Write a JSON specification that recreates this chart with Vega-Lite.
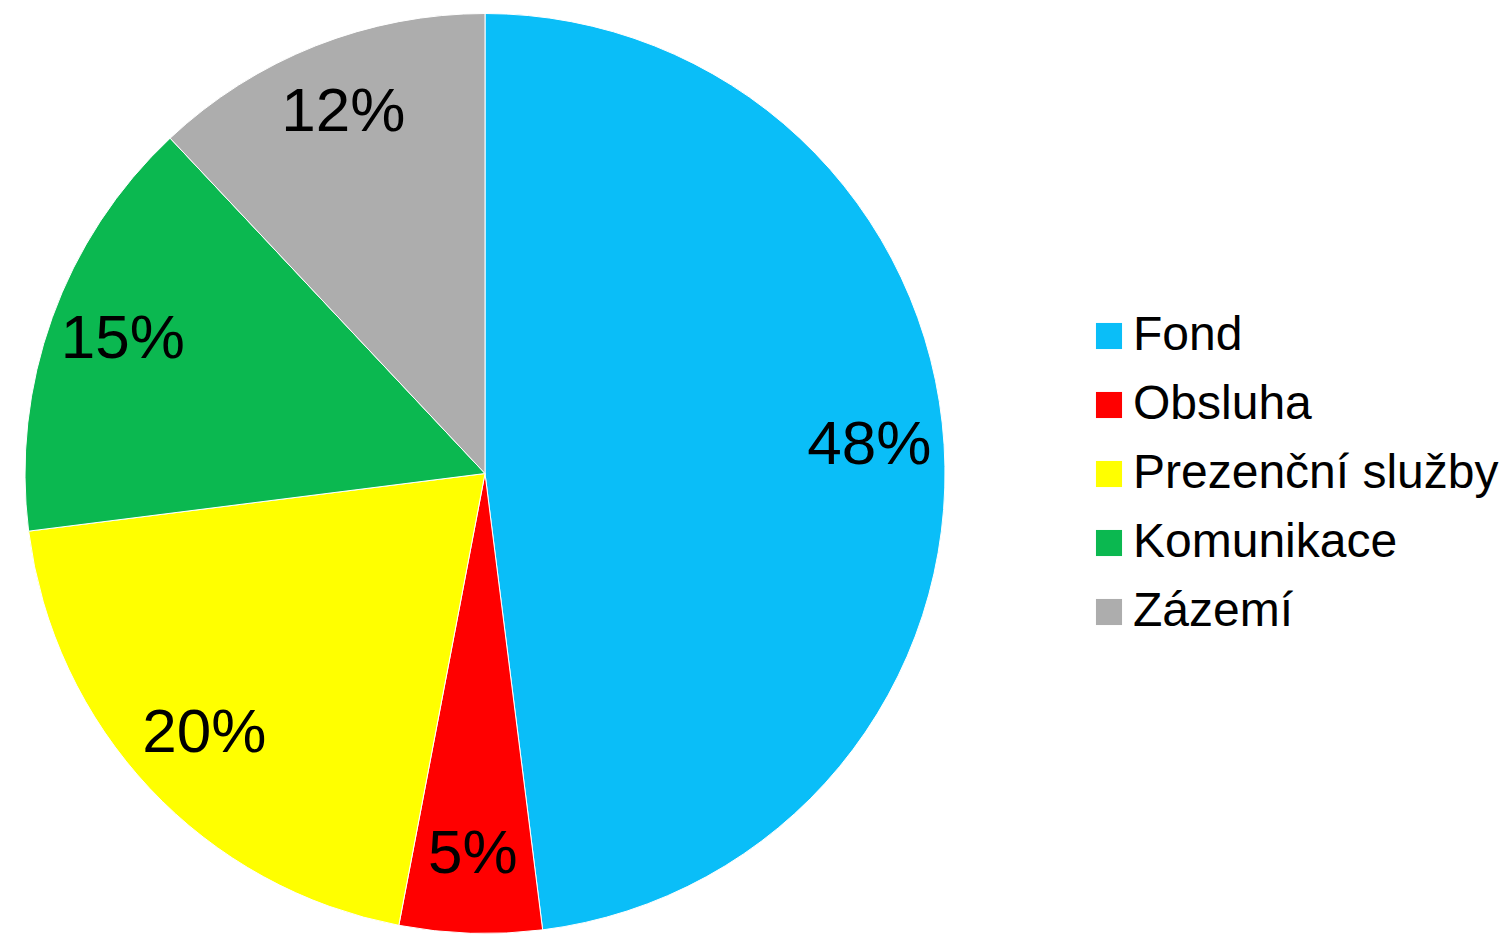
{
  "$schema": "https://vega.github.io/schema/vega-lite/v6.json",
  "width": 970,
  "height": 947,
  "padding": 0,
  "background": "white",
  "data": {
    "values": [
      {"i": 1, "kategorie": "Fond", "podil": 48, "label": "48%"},
      {"i": 2, "kategorie": "Obsluha", "podil": 5, "label": "5%"},
      {"i": 3, "kategorie": "Prezenční služby", "podil": 20, "label": "20%"},
      {"i": 4, "kategorie": "Komunikace", "podil": 15, "label": "15%"},
      {"i": 5, "kategorie": "Zázemí", "podil": 12, "label": "12%"}
    ]
  },
  "encoding": {
    "theta": {"field": "podil", "type": "quantitative", "stack": true},
    "order": {"field": "i", "type": "quantitative"}
  },
  "layer": [
    {
      "mark": {"type": "arc", "outerRadius": 460, "stroke": "white", "strokeWidth": 1},
      "encoding": {
        "color": {
          "field": "kategorie",
          "type": "nominal",
          "sort": ["Fond", "Obsluha", "Prezenční služby", "Komunikace", "Zázemí"],
          "scale": {
            "domain": ["Fond", "Obsluha", "Prezenční služby", "Komunikace", "Zázemí"],
            "range": ["#0ABEF8", "#FF0000", "#FFFF00", "#0BB850", "#ADADAD"]
          },
          "legend": {
            "title": null,
            "orient": "none",
            "legendX": 1085,
            "legendY": 312,
            "padding": 0,
            "symbolType": "square",
            "symbolSize": 680,
            "symbolStrokeWidth": 0,
            "symbolOpacity": 1,
            "labelFont": "Liberation Sans",
            "labelFontSize": 48,
            "labelColor": "black",
            "labelOffset": 0,
            "labelLimit": 600,
            "rowPadding": 21
          }
        }
      }
    },
    {
      "mark": {"type": "text", "radius": 385, "font": "Liberation Sans", "fontSize": 62, "color": "black", "baseline": "middle", "align": "center", "dy": -4},
      "encoding": {
        "text": {"field": "label", "type": "nominal"}
      }
    }
  ]
}
